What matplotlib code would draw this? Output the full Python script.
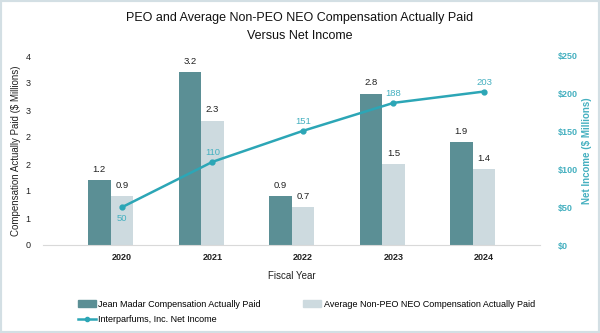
import numpy as np
import matplotlib
matplotlib.use("Agg")
import matplotlib.pyplot as plt
from matplotlib.patches import Patch, Rectangle
from matplotlib.lines import Line2D
from matplotlib.ticker import FuncFormatter, MultipleLocator

plt.rcParams['font.family'] = ['Liberation Sans', 'DejaVu Sans']

# --- data ---
years = ['2020', '2021', '2022', '2023', '2024']
peo_cap = [1.2, 3.2, 0.9, 2.8, 1.9]
neo_cap = [0.9, 2.3, 0.7, 1.5, 1.4]
net_income = [50, 110, 151, 188, 203]

dark = '#5b8f95'
light = '#cddadf'
teal = '#2ca6b6'
teal_txt = '#45b0c0'

fig = plt.figure(figsize=(6, 3.33), dpi=100)
ax = fig.add_axes([43 / 600, 1 - 245 / 333, 497 / 600, 189 / 333])
ax2 = ax.twinx()

x = np.arange(len(years))
w = 0.25
ax.bar(x - w, peo_cap, w, color=dark, zorder=2)
ax.bar(x, neo_cap, w, color=light, zorder=2)
for xi, v in zip(x, peo_cap):
    ax.text(xi - w, v + 0.12, f"{v:.1f}", ha='center', va='bottom', fontsize=6.8, color='#222222')
for xi, v in zip(x, neo_cap):
    ax.text(xi, v + 0.12, f"{v:.1f}", ha='center', va='bottom', fontsize=6.8, color='#222222')

ax.set_xlim(-0.873, 4.619)
ax.set_ylim(0, 3.5)
ax.yaxis.set_major_locator(MultipleLocator(0.5))
ax.yaxis.set_major_formatter(FuncFormatter(lambda v, p: f"{int(np.floor(v + 0.5))}"))
ax.set_xticks(x)
ax.set_xticklabels(years, fontweight='bold')
ax.tick_params(axis='both', length=0, labelsize=6.5, colors='#222222')
ax.tick_params(axis='x', pad=6)
ax.tick_params(axis='y', pad=9)
for s in ['top', 'right', 'left']:
    ax.spines[s].set_visible(False)
ax.spines['bottom'].set_color('#d9d9d9')
ax.set_xlabel('Fiscal Year', fontsize=7, color='#222222', labelpad=6)
ax.set_ylabel('Compensation Actually Paid ($ Millions)', fontsize=7, color='#222222', labelpad=3)

ax2.plot(x, net_income, color=teal, lw=1.8, marker='o', ms=3.5, zorder=3)
ax2.set_ylim(0, 250)
ax2.yaxis.set_major_locator(MultipleLocator(50))
ax2.yaxis.set_major_formatter(FuncFormatter(lambda v, p: f"${int(v)}"))
ax2.tick_params(axis='y', length=0, labelsize=6.5, labelcolor=teal_txt, pad=13)
for lab in ax2.get_yticklabels():
    lab.set_fontweight('bold')
for s in ['top', 'right', 'left', 'bottom']:
    ax2.spines[s].set_visible(False)
ax2.set_ylabel('Net Income ($ Millions)', fontsize=7, color=teal_txt, fontweight='bold', labelpad=3)
for i, (xi, v) in enumerate(zip(x, net_income)):
    if i == 0:
        ax2.text(xi, v - 9, f"{v}", ha='center', va='top', fontsize=6.8, color=teal_txt)
    else:
        ax2.text(xi, v + 6, f"{v}", ha='center', va='bottom', fontsize=6.8, color=teal_txt)

fig.text(0.5, 1 - 27 / 333, 'PEO and Average Non-PEO NEO Compensation Actually Paid\nVersus Net Income',
         ha='center', va='center', fontsize=9, color='#111111', linespacing=1.65)

handles = [Patch(color=dark), Line2D([], [], color=teal, lw=1.8, marker='o', ms=3),
           Patch(color=light)]
labels = ['Jean Madar Compensation Actually Paid', 'Interparfums, Inc. Net Income',
          'Average Non-PEO NEO Compensation Actually Paid']
fig.legend(handles, labels, ncol=2, loc='upper left', bbox_to_anchor=(73 / 600, 1 - 295 / 333),
           frameon=False, fontsize=6.5, handlelength=2.0, handleheight=0.8, handletextpad=0.3,
           columnspacing=4.7, labelspacing=0.75, borderpad=0)

fig.patches.append(Rectangle((0, 0), 1, 1, transform=fig.transFigure, fill=False,
                             edgecolor='#d3dfe4', lw=3))

fig.savefig('out.png', dpi=100)
